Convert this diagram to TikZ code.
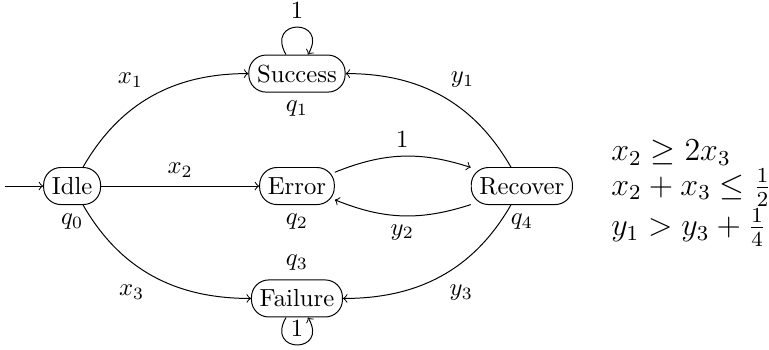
\documentclass[tikz,border=0pt]{standalone}
\usepackage{amsmath}
\begin{document}
\begin{tikzpicture}[
	statebox/.style={draw, rectangle, rounded corners=7pt, minimum height=15pt},
	selfloop/.style={->, loop, min distance=6mm}
	]

	\useasboundingbox (-4.226,-2.32) rectangle (6.717,2.647);

	\node [statebox, label=below:$q_0$] (Idle) at (-3.2,0) {Idle};
	\node [statebox, label=below:$q_1$] (Success) at (0,1.6) {Success};
	\node [statebox, label=below:$q_2$] (Error) at (0,0) {Error};
	\node [statebox, label=above:$q_3$] (Failure) at (0,-1.6) {Failure};
	\node [statebox, label=below:$q_4$] (Recover) at (3.2,0) {Recover};
	\coordinate (start) at (-4.15,0);

	\draw [->] (start) -- (Idle);

	\draw [->] (Idle) to [out=60, in=180] node [above left] {$x_1$} (Success);
	\draw [->] (Idle) -- (Error) node [above, midway] {$x_2$};
	\draw [->] (Idle) to [out=-60, in=180] node [below left] {$x_3$} (Failure);

	\draw [->] (Recover) to [out=120, in=0] node [above right] {$y_1$} (Success);
	\draw [->] (Recover) to [bend left=20] node [below] {$y_2$} (Error);
	\draw [->] (Recover) to [out=240, in=0] node [below right] {$y_3$} (Failure);

	\draw [->] (Error) to [bend left=20] node [above] {$1$} (Recover);

	\draw [selfloop] (Success) to [out=120, in=60] node [above] {$1$} (Success);
	\draw [selfloop] (Failure) to [out=240, in=300] node [above] {$1$} (Failure);

	\node [anchor=west, align=left, transform shape, scale=1.08,
		font=\fontsize{12}{13}\selectfont] (rules) at (4.34,-0.1)
		{$x_2 \geq 2x_3$\\ $x_2 + x_3 \leq \frac{1}{2}$\\ $y_1 > y_3 + \frac{1}{4}$};

\end{tikzpicture}
\end{document}
